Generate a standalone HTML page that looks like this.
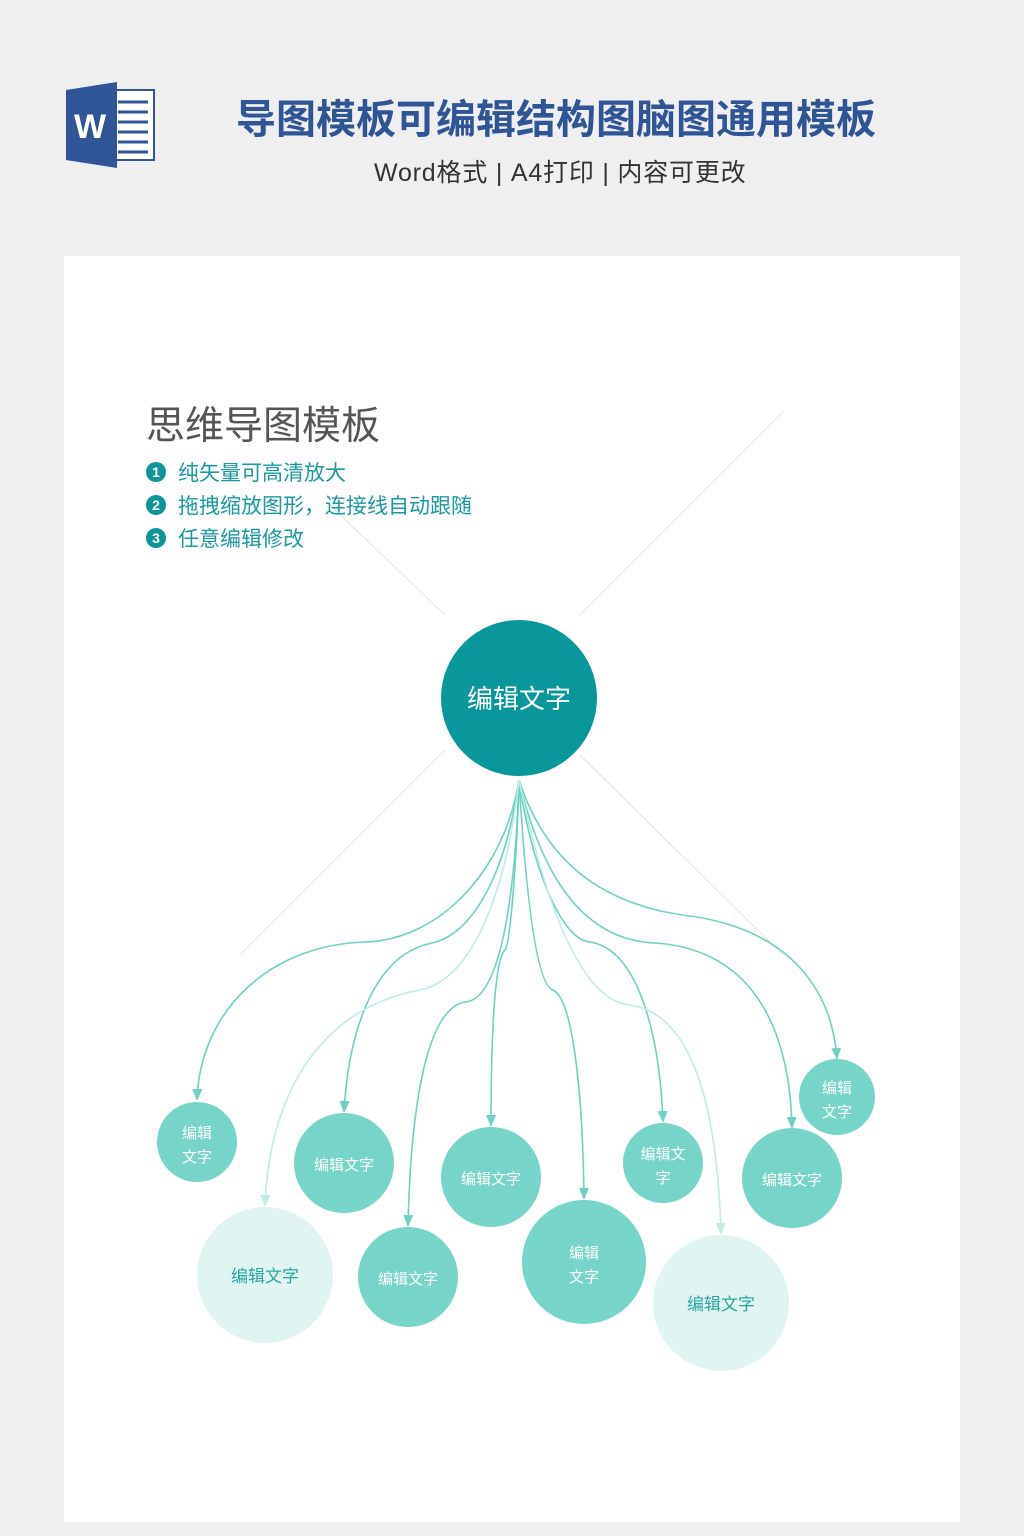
<!DOCTYPE html>
<html><head><meta charset="utf-8"><style>
body{margin:0;width:1024px;height:1536px;background:#efefef;font-family:"Liberation Sans","Noto Sans CJK SC",sans-serif;position:relative;overflow:hidden}
.t{position:absolute;white-space:nowrap}
</style></head><body>
<svg width="1024" height="1536" style="position:absolute;left:0;top:0">
<defs>
<marker id="b" markerWidth="10" markerHeight="12" refX="11" refY="5" orient="auto" markerUnits="userSpaceOnUse"><path d="M0,0 L12,5 L0,10z" fill="#6fd0c4"/></marker>
<marker id="c" markerWidth="10" markerHeight="12" refX="11" refY="5" orient="auto" markerUnits="userSpaceOnUse"><path d="M0,0 L12,5 L0,10z" fill="#bfece5"/></marker>
</defs>
<rect x="110" y="90" width="44" height="70" fill="#fff" stroke="#2f5597" stroke-width="2"/>
<g stroke="#2f5597" stroke-width="3"><line x1="118" y1="102" x2="148" y2="102"/><line x1="118" y1="112" x2="148" y2="112"/><line x1="118" y1="122" x2="148" y2="122"/><line x1="118" y1="132" x2="148" y2="132"/><line x1="118" y1="142" x2="148" y2="142"/><line x1="118" y1="152" x2="148" y2="152"/></g>
<path d="M66,90 L117,82 L117,168 L66,160z" fill="#2f5597"/>
<text x="90" y="138" font-family="Liberation Sans" font-weight="bold" font-size="34" fill="#fff" text-anchor="middle">W</text>
<rect x="64" y="256" width="896" height="1266" fill="#fff"/>
<g stroke="#e6e6e6" stroke-width="1.2">
<line x1="240" y1="955" x2="445" y2="750"/><line x1="580" y1="615" x2="783" y2="412"/>
<line x1="330" y1="505" x2="445" y2="615"/><line x1="580" y1="755" x2="783" y2="955"/>
</g>
<g fill="none" stroke="#6fd0c4" stroke-width="1.6" marker-end="url(#b)">
<path d="M519,780 C505,870 440,940 365,942 C270,945 200,1010 197,1100"/>
<path d="M519,780 C505,880 470,935 432,943 C370,955 348,1040 344,1112"/>
<path d="M519,780 C515,900 500,1000 465,1002 C420,1010 410,1140 408,1226"/>
<path d="M519,780 C517,860 510,945 505,950 C493,960 491,1060 491,1126"/>
<path d="M519,780 C525,880 535,985 553,990 C575,1000 583,1110 584,1199"/>
<path d="M519,780 C530,860 560,940 590,942 C640,950 660,1040 663,1122"/>
<path d="M519,780 C540,870 580,940 655,943 C760,950 790,1040 792,1128"/>
<path d="M519,780 C545,860 600,905 690,916 C790,930 832,990 837,1059"/>
</g>
<g fill="none" stroke="#bfece5" stroke-width="1.6" marker-end="url(#c)">
<path d="M519,780 C505,900 470,980 420,990 C310,1010 268,1110 265,1206"/>
<path d="M519,780 C540,880 575,1000 630,1005 C700,1015 718,1130 721,1234"/>
</g>
<circle cx="519" cy="698" r="78" fill="#0a979b"/>
<g fill="#77d4c9">
<circle cx="197" cy="1142" r="40"/><circle cx="344" cy="1163" r="50"/><circle cx="491" cy="1177" r="50"/>
<circle cx="584" cy="1262" r="62"/><circle cx="663" cy="1163" r="40"/><circle cx="792" cy="1178" r="50"/>
<circle cx="837" cy="1097" r="38"/><circle cx="408" cy="1277" r="50"/>
</g>
<g fill="#e0f5f2"><circle cx="265" cy="1275" r="68"/><circle cx="721" cy="1303" r="68"/></g>
<g font-family="Liberation Sans, Noto Sans CJK SC, sans-serif" fill="#fff" text-anchor="middle" font-size="15">
<text x="519" y="708" font-size="26">编辑文字</text>
<text x="197" y="1138">编辑</text><text x="197" y="1162">文字</text>
<text x="344" y="1170">编辑文字</text><text x="491" y="1184">编辑文字</text>
<text x="584" y="1258">编辑</text><text x="584" y="1282">文字</text>
<text x="663" y="1159">编辑文</text><text x="663" y="1183">字</text>
<text x="792" y="1185">编辑文字</text>
<text x="837" y="1093">编辑</text><text x="837" y="1117">文字</text>
<text x="408" y="1284">编辑文字</text>
<text x="265" y="1282" fill="#2aa6a0" font-size="17">编辑文字</text>
<text x="721" y="1310" fill="#2aa6a0" font-size="17">编辑文字</text>
</g>
<g fill="#0f9599">
<circle cx="156" cy="472" r="10"/><circle cx="156" cy="505" r="10"/><circle cx="156" cy="538" r="10"/>
</g>
<g fill="#fff" font-family="Liberation Sans" font-weight="bold" font-size="14" text-anchor="middle">
<text x="156" y="477">1</text><text x="156" y="510">2</text><text x="156" y="543">3</text></g>
</svg>
<div class="t" style="left:236px;top:87px;font-size:40px;font-weight:bold;color:#2f5597">导图模板可编辑结构图脑图通用模板</div>
<div class="t" style="left:374px;top:153px;font-size:25px;color:#333;letter-spacing:0.8px">Word格式 | A4打印 | 内容可更改</div>
<div class="t" style="left:146px;top:395px;font-size:39px;color:#555">思维导图模板</div>
<div class="t" style="left:178px;top:457px;font-size:21px;color:#1a9aa0">纯矢量可高清放大</div>
<div class="t" style="left:178px;top:490px;font-size:21px;color:#1a9aa0">拖拽缩放图形，连接线自动跟随</div>
<div class="t" style="left:178px;top:523px;font-size:21px;color:#1a9aa0">任意编辑修改</div>
</body></html>
